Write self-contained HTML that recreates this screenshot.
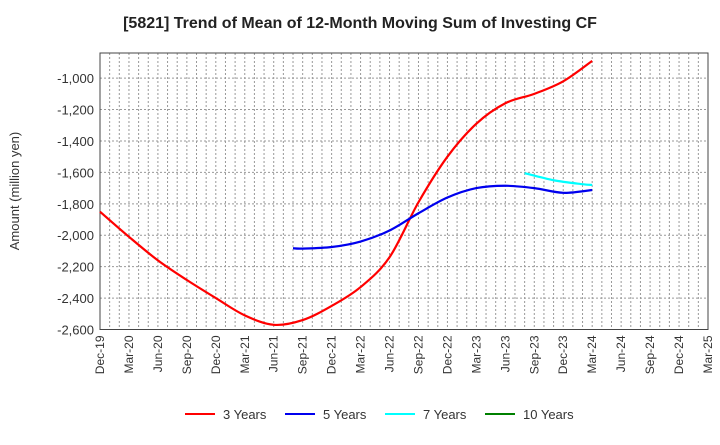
<!DOCTYPE html>
<html><head><meta charset="utf-8"><style>
body{margin:0;background:#fff;font-family:"Liberation Sans",Arial,sans-serif}
svg text{font-family:"Liberation Sans",Arial,sans-serif}
</style></head><body>
<svg id="chart" width="720" height="440" xmlns="http://www.w3.org/2000/svg">
<text x="360" y="28" text-anchor="middle" font-size="16" font-weight="bold" fill="#222">[5821]  Trend of Mean of 12-Month Moving Sum of Investing CF</text>
<text transform="translate(19,191) rotate(-90)" text-anchor="middle" font-size="13" fill="#333">Amount (million yen)</text>
<g id="grid"></g><g id="axes"></g><g id="series"></g><g id="legend"></g>
</svg>
<script>
const xLabels=["Dec-19","Mar-20","Jun-20","Sep-20","Dec-20","Mar-21","Jun-21","Sep-21","Dec-21","Mar-22","Jun-22","Sep-22","Dec-22","Mar-23","Jun-23","Sep-23","Dec-23","Mar-24","Jun-24","Sep-24","Dec-24","Mar-25"];
const yTicks=[-1000,-1200,-1400,-1600,-1800,-2000,-2200,-2400,-2600];
const months3=[0,3,6,9,12,15,18,21,24,27,30,33,36,39,42,45,48,51];
const vals3=[-1850,-2010,-2160,-2285,-2400,-2510,-2570,-2540,-2450,-2330,-2140,-1790,-1500,-1290,-1160,-1100,-1020,-890];
const months5=[20,21,24,27,30,33,36,39,42,45,48,51];
const vals5=[-2083,-2085,-2075,-2040,-1970,-1860,-1760,-1700,-1685,-1700,-1730,-1712];
const months7=[44,47,50,51];
const vals7=[-1605,-1650,-1675,-1680];
const months10=[];
const vals10=[];
const X0=100,X1=708,Y0=329.5,Y1=53,YMIN=-2600,YMAX=-840,NM=63;
const xs=m=>X0+(X1-X0)*m/NM;
const ys=v=>Y0-(Y0-Y1)*(v-YMIN)/(YMAX-YMIN);
const NS="http://www.w3.org/2000/svg";
function mk(t,p,a){const e=document.createElementNS(NS,t);for(const k in a)e.setAttribute(k,a[k]);p.appendChild(e);return e;}
const grid=document.getElementById('grid'),axes=document.getElementById('axes'),ser=document.getElementById('series'),leg=document.getElementById('legend');
for(let m=1;m<NM;m++){const l=mk('line',grid,{x1:xs(m),x2:xs(m),y1:Y1,y2:Y0,stroke:'#999','stroke-dasharray':'2,2','stroke-width':1});

}
yTicks.forEach(v=>{const l=mk('line',grid,{x1:X0,x2:X1,y1:ys(v),y2:ys(v),stroke:'#999','stroke-dasharray':'2,2','stroke-width':1});


const t=mk('text',axes,{x:X0-6,y:ys(v)+5,'text-anchor':'end','font-size':13,fill:'#333'});t.textContent=v.toLocaleString('en-US');

});
const fr=mk('rect',axes,{x:X0,y:Y1,width:X1-X0,height:Y0-Y1,fill:'none',stroke:'#444','stroke-width':1});


xLabels.forEach((s,i)=>{const x=xs(i*3);const t=mk('text',axes,{transform:`translate(${x+4},${Y0+6}) rotate(-90)`,'text-anchor':'end','font-size':12,fill:'#333'});t.textContent=s;

});
function smooth(pts){if(pts.length<2)return '';let d=`M${pts[0][0]},${pts[0][1]}`;for(let i=0;i<pts.length-1;i++){const p0=pts[Math.max(0,i-1)],p1=pts[i],p2=pts[i+1],p3=pts[Math.min(pts.length-1,i+2)];const c1=[p1[0]+(p2[0]-p0[0])/6,p1[1]+(p2[1]-p0[1])/6],c2=[p2[0]-(p3[0]-p1[0])/6,p2[1]-(p3[1]-p1[1])/6];d+=` C${c1[0]},${c1[1]} ${c2[0]},${c2[1]} ${p2[0]},${p2[1]}`;}return d;}
const series=[[months3,vals3,'#ff0000','3 Years','line-3-years'],[months5,vals5,'#0000ee','5 Years','line-5-years'],[months7,vals7,'#00ffff','7 Years','line-7-years'],[months10,vals10,'#008000','10 Years','line-10-years']];
series.forEach(([ms,vs,c,lab,nm],i)=>{const pts=ms.map((m,j)=>[xs(m),ys(vs[j])]);
if(pts.length){const p=mk('path',ser,{d:smooth(pts),fill:'none',stroke:c,'stroke-width':2.2});

}
const lx=185+i*100;
const g=mk('g',leg,{});


mk('line',g,{x1:lx,x2:lx+30,y1:414,y2:414,stroke:c,'stroke-width':2});
const t=mk('text',g,{x:lx+38,y:419,'font-size':13,fill:'#333'});t.textContent=lab;});
</script>
</body></html>
